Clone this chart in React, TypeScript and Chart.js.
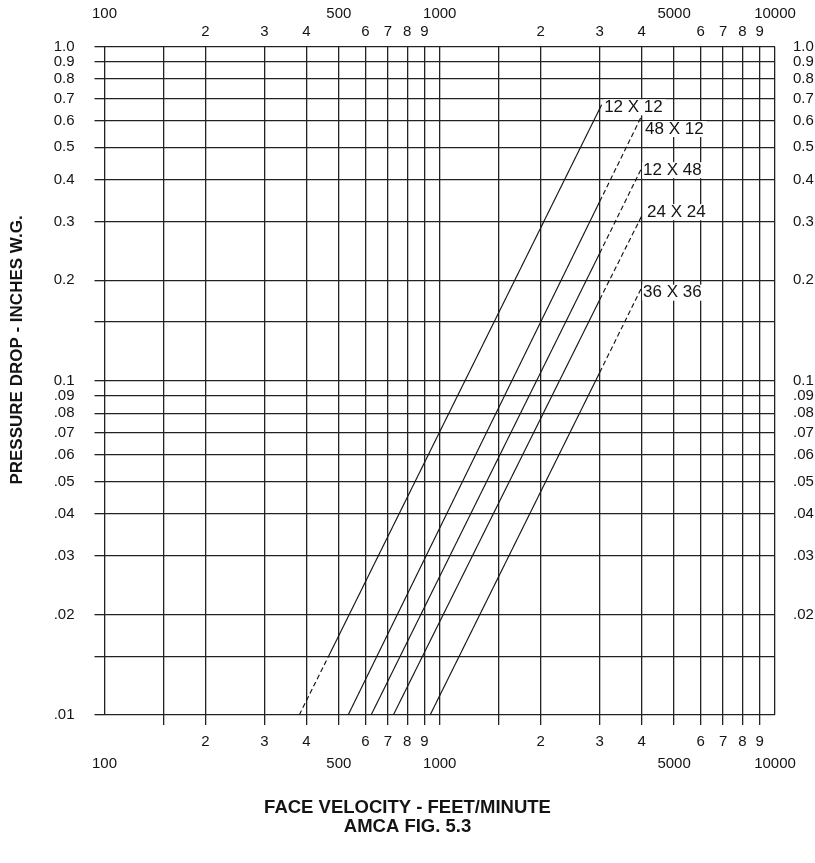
import React, { useEffect, useRef } from "react";
import { Chart, registerables } from "chart.js";

Chart.register(...registerables);

// ---- Axis grid values and tick labels ----
const velocityGrid = [100, 150, 200, 300, 400, 500, 600, 700, 800, 900, 1000, 1500, 2000, 3000, 4000, 5000, 6000, 7000, 8000, 9000, 10000];
const velocityDigitLabels = ["", "", "2", "3", "4", "", "6", "7", "8", "9", "", "", "2", "3", "4", "", "6", "7", "8", "9", ""];
const velocityDecadeLabels = ["100", "", "", "", "", "500", "", "", "", "", "1000", "", "", "", "", "5000", "", "", "", "", "10000"];

const pressureGrid = [1.0, 0.9, 0.8, 0.7, 0.6, 0.5, 0.4, 0.3, 0.2, 0.15, 0.1, 0.09, 0.08, 0.07, 0.06, 0.05, 0.04, 0.03, 0.02, 0.015, 0.01];
const pressureLabelsLeft = ["1.0", "0.9", "0.8", "0.7", "0.6", "0.5", "0.4", "0.3", "0.2", "", "0.1", ".09", ".08", ".07", ".06", ".05", ".04", ".03", ".02", "", ".01"];
const pressureLabelsRight = ["1.0", "0.9", "0.8", "0.7", "0.6", "0.5", "0.4", "0.3", "0.2", "", "0.1", ".09", ".08", ".07", ".06", ".05", ".04", ".03", ".02", "", ""];

// ---- Series (filter sizes): face velocity (fpm) vs pressure drop (in. w.g.) ----
const seriesNames = ["12 X 12", "48 X 12", "12 X 48", "24 X 24", "36 X 36"];
const velocityAtStart = [381, 533, 624, 727, 936];
const pressureAtStart = [0.01, 0.01, 0.01, 0.01, 0.01];
const velocityAtBreak = [466, 3000, 3000, 3000, 3000];
const pressureAtBreak = [0.015, 0.344, 0.241, 0.175, 0.106];
const velocityAtEnd = [3040, 4000, 4000, 4000, 4000];
const pressureAtEnd = [0.67, 0.62, 0.433, 0.311, 0.19];
// which segment is dashed: 0 = lower part, 1 = upper part
const dashedSegment = [0, 1, 1, 1, 1];

const xAxisTitle = ["FACE VELOCITY - FEET/MINUTE", "AMCA FIG. 5.3"];
const yAxisTitle = "PRESSURE DROP - INCHES W.G.";

// ---- Label styling (pixel offsets from the line end) ----
const labelDx = [2.5, 3.5, 1.5, 5.5, 1.5];
const labelDy = [2.5, 13, 2, -4, 5];

const INK = "#141414";
const GRID = "#222222";
const FAMILY = "'Liberation Sans', Arial, sans-serif";
const tickFont = { family: FAMILY, size: 15 };

const curveLabelPlugin = {
  id: "curveLabels",
  afterDatasetsDraw(chart: any) {
    const ctx = chart.ctx;
    ctx.save();
    ctx.font = `17px ${FAMILY}`;
    ctx.textBaseline = "middle";
    ctx.textAlign = "left";
    chart.data.datasets.forEach((ds: any, i: number) => {
      const meta = chart.getDatasetMeta(i);
      const pt = meta.data[meta.data.length - 1];
      const tx = pt.x + labelDx[i];
      const ty = pt.y + labelDy[i];
      const w = ctx.measureText(ds.label).width;
      ctx.fillStyle = "#ffffff";
      ctx.fillRect(tx - 0.8, ty - 8, w + 4, 16);
      ctx.fillStyle = INK;
      ctx.fillText(ds.label, tx, ty);
    });
    ctx.restore();
  },
};

const sideTitlePlugin = {
  id: "sideTitle",
  afterDraw(chart: any) {
    const ctx = chart.ctx;
    ctx.save();
    ctx.translate(17, 350);
    ctx.rotate(-Math.PI / 2);
    ctx.font = `bold 17px ${FAMILY}`;
    ctx.fillStyle = INK;
    ctx.textAlign = "center";
    ctx.textBaseline = "middle";
    ctx.fillText(yAxisTitle, 0, 0);
    ctx.restore();
  },
};

function velocityTicks(scale: any) {
  scale.ticks = velocityGrid.map((v) => ({ value: v }));
}
function pressureTicks(scale: any) {
  scale.ticks = [...pressureGrid].sort((a, b) => a - b).map((v) => ({ value: v }));
}

export default function App() {
  const canvasRef = useRef<HTMLCanvasElement | null>(null);

  useEffect(() => {
    if (!canvasRef.current) return;
    const datasets = seriesNames.map((name, i) => ({
      label: name,
      data: [
        { x: velocityAtStart[i], y: pressureAtStart[i] },
        { x: velocityAtBreak[i], y: pressureAtBreak[i] },
        { x: velocityAtEnd[i], y: pressureAtEnd[i] },
      ],
      showLine: true,
      borderColor: INK,
      borderWidth: 1.15,
      pointRadius: 0,
      pointHoverRadius: 0,
      fill: false,
      xAxisID: "x",
      yAxisID: "y",
      segment: {
        borderDash: (ctx: any) => (ctx.p0DataIndex === dashedSegment[i] ? [5, 3] : undefined),
      },
    }));

    const chart = new Chart(canvasRef.current, {
      type: "scatter",
      data: { datasets },
      options: {
        animation: false,
        responsive: false,
        devicePixelRatio: 1,
        layout: { padding: 0 },
        plugins: {
          legend: { display: false },
          tooltip: { enabled: false },
          title: {
            display: true,
            position: "bottom",
            text: xAxisTitle,
            color: INK,
            font: { family: FAMILY, size: 18.5, weight: "bold", lineHeight: "19px" },
            padding: { top: 0, bottom: 26.5 },
          },
        },
        scales: {
          x: {
            type: "logarithmic",
            position: "bottom",
            min: 100,
            max: 10000,
            afterBuildTicks: velocityTicks,
            afterFit: (s: any) => {
              s.height = 83.5;
            },
            grid: {
              color: GRID,
              lineWidth: 1.3,
              drawTicks: true,
              tickLength: 10,
              tickColor: (c: any) =>
                c.tick && (c.tick.value === 100 || c.tick.value === 10000) ? "rgba(0,0,0,0)" : GRID,
            },
            border: { display: false },
            ticks: {
              autoSkip: false,
              maxRotation: 0,
              minRotation: 0,
              padding: 6,
              color: INK,
              font: { ...tickFont, lineHeight: "22px" },
              callback: (v: any) => {
                const k = velocityGrid.indexOf(Number(v));
                return [velocityDigitLabels[k] || "", velocityDecadeLabels[k] || ""];
              },
            },
          },
          x2: {
            type: "logarithmic",
            position: "top",
            min: 100,
            max: 10000,
            afterBuildTicks: velocityTicks,
            afterFit: (s: any) => {
              s.height = 46.7;
            },
            grid: { display: false, drawTicks: false, drawOnChartArea: false },
            border: { display: false },
            ticks: {
              autoSkip: false,
              maxRotation: 0,
              minRotation: 0,
              padding: 5.7,
              color: INK,
              font: { ...tickFont, lineHeight: "18px" },
              callback: (v: any) => {
                const k = velocityGrid.indexOf(Number(v));
                return [velocityDecadeLabels[k] || "", velocityDigitLabels[k] || ""];
              },
            },
          },
          y: {
            type: "logarithmic",
            position: "left",
            min: 0.01,
            max: 1,
            afterBuildTicks: pressureTicks,
            afterFit: (s: any) => {
              s.width = 104.5;
            },
            grid: { color: GRID, lineWidth: 1.3, drawTicks: true, tickLength: 10, tickColor: GRID },
            border: { display: false },
            ticks: {
              autoSkip: false,
              padding: 20,
              color: INK,
              font: tickFont,
              callback: (v: any) => pressureLabelsLeft[pressureGrid.indexOf(Number(v))] ?? "",
            },
          },
          y2: {
            type: "logarithmic",
            position: "right",
            min: 0.01,
            max: 1,
            afterBuildTicks: pressureTicks,
            afterFit: (s: any) => {
              s.width = 40;
            },
            grid: { display: false, drawTicks: false, drawOnChartArea: false },
            border: { display: false },
            ticks: {
              autoSkip: false,
              padding: 18,
              color: INK,
              font: tickFont,
              callback: (v: any) => pressureLabelsRight[pressureGrid.indexOf(Number(v))] ?? "",
            },
          },
        },
      },
      plugins: [curveLabelPlugin, sideTitlePlugin],
    } as any);

    return () => chart.destroy();
  }, []);

  return (
    <div style={{ position: "absolute", left: 0, top: 0, width: 815, height: 863, background: "#fff" }}>
      <canvas ref={canvasRef} width={815} height={863} style={{ width: 815, height: 863, display: "block" }} />
    </div>
  );
}
